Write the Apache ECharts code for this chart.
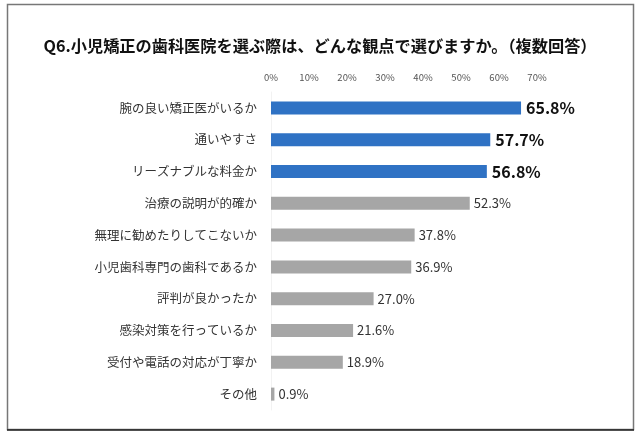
<!DOCTYPE html>
<html><head><meta charset="utf-8">
<script src="https://cdn.jsdelivr.net/npm/echarts@6/dist/echarts.min.js"></script>
<style>html,body{margin:0;padding:0;background:#fff}#c{width:640px;height:439px}</style>
</head><body><div id="c"></div>
<script>
const categories = ['腕の良い矯正医がいるか','通いやすさ','リーズナブルな料金か','治療の説明が的確か','無理に勧めたりしてこないか','小児歯科専門の歯科であるか','評判が良かったか','感染対策を行っているか','受付や電話の対応が丁寧か','その他'];
const values = [65.8, 57.7, 56.8, 52.3, 37.8, 36.9, 27.0, 21.6, 18.9, 0.9];
const highlighted = [true, true, true, false, false, false, false, false, false, false];
const tickLabels = ['0%','10%','20%','30%','40%','50%','60%','70%'];
const FONT = '"Noto Sans CJK JP", "Noto Sans", sans-serif';
const chart = echarts.init(document.getElementById('c'));
chart.setOption({
  animation: false,
  textStyle: {fontFamily: FONT},
  title: {
    text: 'Q6.小児矯正の歯科医院を選ぶ際は、どんな観点で選びますか。（複数回答）',
    left: 'center', top: 33,
    textStyle: {fontSize: 16.2, fontWeight: 'bold', color: '#111', fontFamily: FONT}
  },
  graphic: [
    {type: 'rect', shape: {x: 7.5, y: 4.5, width: 626, height: 425}, style: {fill: 'none', stroke: '#777', lineWidth: 1.5}},
    {type: 'line', shape: {x1: 7, y1: 430, x2: 634, y2: 430}, style: {stroke: '#222', lineWidth: 1.5}}
  ],
  grid: {left: 271, width: 266, top: 92, height: 318},
  xAxis: {
    type: 'value', position: 'top', min: 0, max: 70, interval: 10,
    axisLine: {show: false}, axisTick: {show: false}, splitLine: {show: false},
    axisLabel: {fontSize: 9.5, color: '#555', margin: 10, formatter: v => tickLabels[v / 10]}
  },
  yAxis: {
    type: 'category', data: categories, inverse: true,
    axisLine: {show: true, lineStyle: {color: '#f2f2f2', width: 1}}, axisTick: {show: false},
    axisLabel: {fontSize: 12.5, color: '#333', margin: 14}
  },
  series: [{
    type: 'bar', barWidth: 13,
    data: values.map((v, i) => ({
      value: v,
      itemStyle: {color: highlighted[i] ? '#2f72c4' : '#a6a6a6'},
      label: highlighted[i]
        ? {fontSize: 16, fontWeight: 'bold', color: '#111', distance: 5}
        : {fontSize: 13, color: '#333', distance: 4}
    })),
    label: {show: true, position: 'right', formatter: p => p.value.toFixed(1) + '%'}
  }]
});
</script></body></html>
